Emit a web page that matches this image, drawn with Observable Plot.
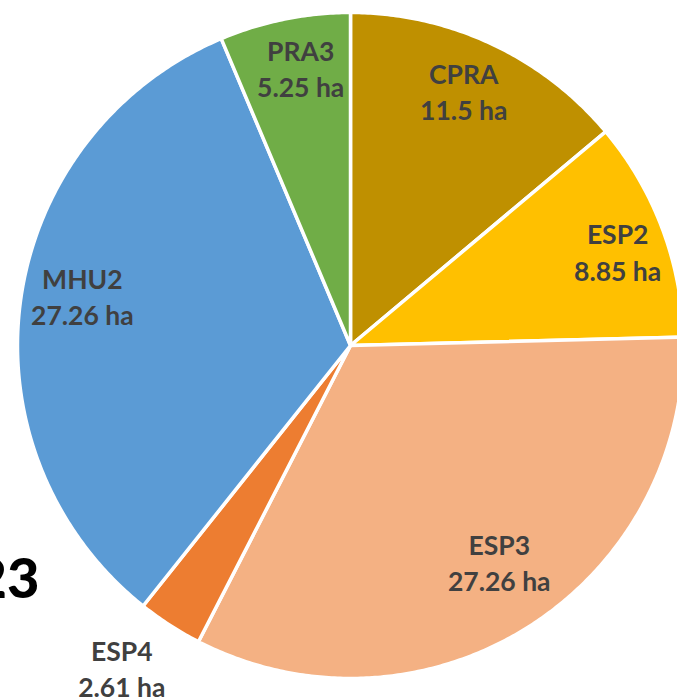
<!DOCTYPE html>
<html>
<head>
<meta charset="utf-8">
<script src="https://cdn.jsdelivr.net/npm/d3@7"></script>
<script src="https://cdn.jsdelivr.net/npm/@observablehq/plot@0.6"></script>
<style>
  html, body { margin: 0; padding: 0; background: #fff; overflow: hidden; }
  #chart { width: 677px; height: 700px; overflow: hidden; }
</style>
</head>
<body>
<div id="chart"></div>
<script>
// ---- data ----
const names  = ["CPRA", "ESP2", "ESP3", "ESP4", "MHU2", "PRA3"];
const values = [11.5, 8.85, 27.26, 2.61, 27.26, 5.25];
const colors = ["#BF9000", "#FFC000", "#F4B183", "#ED7D31", "#5B9BD5", "#70AD47"];
const unit = "ha";
const titleFragment = "23";

// ---- layout (pixels) ----
const W = 677, H = 700;
const CX = 350, CY = 345, R = 333;
// label placement: radial factor and angular nudge (degrees) per slice
const labelRadius = [0.832, 0.849, 0.792, 1.190, 0.818, 0.843];
const labelShift  = [-0.9, 1.6, -2.2, 2.4, 2.3, 1.2];

const arcs = d3.pie().sort(null).value(d => d)(values);

// slice outlines in unit-circle coordinates (y up)
const slicePts = [];
arcs.forEach((a, i) => {
  const name = names[i];
  slicePts.push({name, x: 0, y: 0});
  const n = Math.max(2, Math.ceil((a.endAngle - a.startAngle) / (Math.PI / 360)));
  for (let k = 0; k <= n; k++) {
    const t = a.startAngle + (a.endAngle - a.startAngle) * k / n;
    slicePts.push({name, x: Math.sin(t), y: Math.cos(t)});
  }
  slicePts.push({name, x: 0, y: 0});
});

const labels = arcs.map((a, i) => {
  const t = (a.startAngle + a.endAngle) / 2 + labelShift[i] * Math.PI / 180;
  return {
    name: names[i],
    value: values[i],
    x: labelRadius[i] * Math.sin(t),
    y: labelRadius[i] * Math.cos(t)
  };
});

const chart = Plot.plot({
  width: W,
  height: H,
  margin: 0,
  style: {background: "#fff", overflow: "hidden"},
  x: {domain: [-CX / R, (W - CX) / R], axis: null},
  y: {domain: [-(H - CY) / R, CY / R], axis: null},
  color: {domain: names, range: colors},
  marks: [
    Plot.line(slicePts, {
      x: "x", y: "y", z: "name", fill: "name",
      stroke: "white", strokeWidth: 3.5, strokeLinejoin: "round", curve: "linear"
    }),
    Plot.text(labels, {
      x: "x", y: "y",
      text: d => `${d.name}\n${d.value} ${unit}`,
      fontFamily: "Lato", fontWeight: "bold", fontSize: 26.5,
      lineHeight: 1.37, fill: "#404040", dy: -2
    }),
    Plot.text([titleFragment], {
      frameAnchor: "top-left", text: d => d,
      dx: 39, dy: 597, textAnchor: "end", lineAnchor: "bottom",
      fontFamily: "Lato", fontWeight: 900, fontSize: 56, fill: "#000"
    })
  ]
});
document.getElementById("chart").append(chart);
</script>
</body>
</html>
